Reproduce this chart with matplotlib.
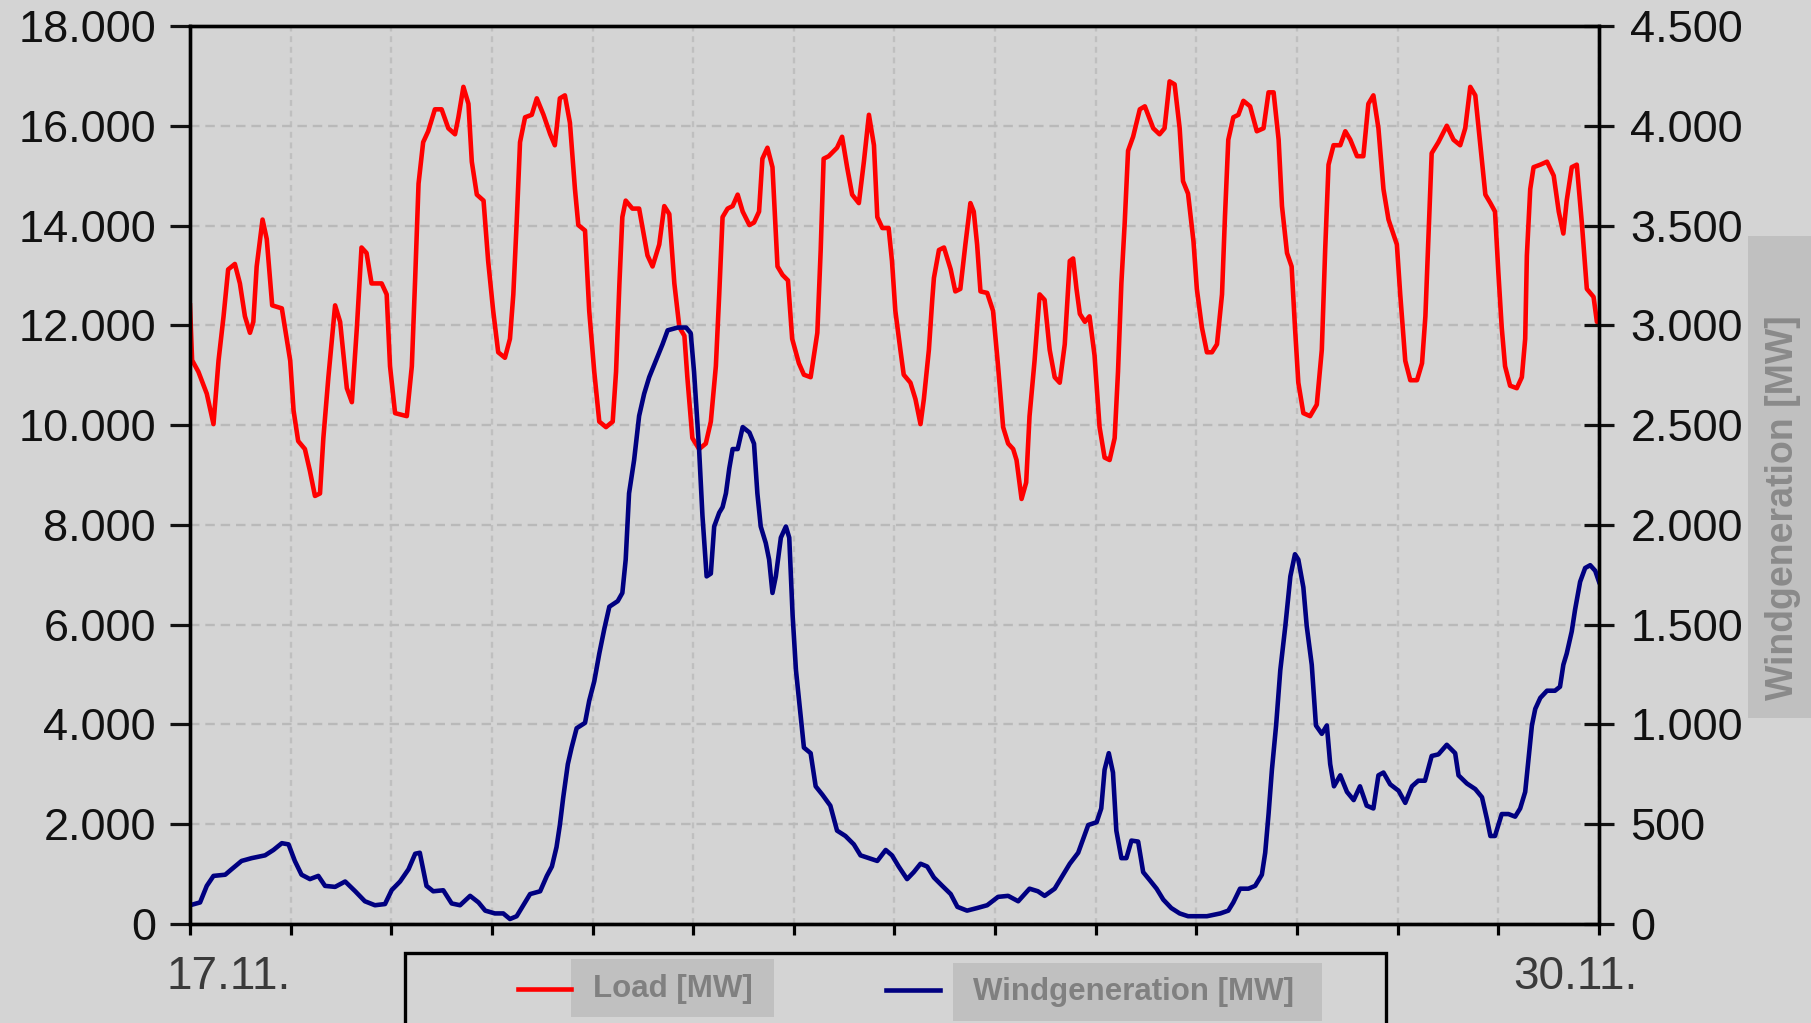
import matplotlib
matplotlib.use("Agg")
import matplotlib.pyplot as plt
from matplotlib.patches import Rectangle
from matplotlib.lines import Line2D
from matplotlib.ticker import FuncFormatter, MultipleLocator

plt.rcParams['font.family'] = ['Liberation Sans', 'DejaVu Sans']

# hours since 17.11. 00:00
load_h = [0, 0.5, 2.0, 4.0, 5.6, 6.8, 8.0, 9.1, 10.7, 11.9, 13.1, 14.3, 15.1, 15.9, 17.3, 18.3, 19.6, 21.9, 23.9,
          24.7, 25.8, 27.4, 28.6, 29.8, 31.0, 31.8, 33.0, 34.6, 35.8, 37.4, 38.6, 39.8, 40.9, 42.1, 43.3, 45.7,
          46.9, 47.7, 48.9, 51.7, 52.9, 53.7, 54.5, 55.6, 56.8, 58.4, 60.0, 61.6, 63.2, 64.0, 65.2, 66.4, 67.2,
          68.4, 70.0, 71.1, 72.3, 73.5, 75.1, 76.3, 77.1, 77.9, 78.7, 79.9, 81.5, 82.7, 84.3, 85.9, 87.0, 88.2,
          89.4, 90.6, 91.8, 92.6, 94.2, 95.2, 96.4, 97.6, 99.2, 100.8, 101.6, 102.4, 103.1, 103.9, 105.5, 107.1,
          109.1, 110.3, 111.9, 113.1, 114.3, 115.5, 116.7, 117.9, 118.6, 119.8, 121.4, 123.0, 124.2, 125.4, 126.2,
          127.0, 128.2, 129.4, 130.6, 131.8, 133.4, 134.5, 135.7, 136.5, 137.7, 138.9, 140.1, 141.3, 142.6, 143.6,
          145.2, 146.4, 148.0, 149.6, 150.4, 151.1, 152.3, 154.3, 155.5, 156.7, 157.9, 159.5, 160.7, 161.9, 163.1,
          163.9, 165.1, 166.6, 167.4, 168.2, 169.4, 170.2, 171.8, 173.0, 174.2, 175.0, 176.2, 177.0, 177.4, 178.6,
          179.8, 181.4, 182.5, 183.7, 184.9, 186.1, 186.9, 187.7, 188.5, 190.1, 191.5, 192.7, 193.9, 195.1, 196.3,
          197.1, 198.3, 199.4, 200.2, 201.4, 202.6, 203.8, 205.0, 206.2, 207.4, 208.6, 209.8, 210.6, 211.4, 212.2,
          213.4, 214.5, 215.7, 216.9, 218.1, 219.3, 220.5, 221.3, 222.1, 222.9, 223.7, 224.9, 226.5, 227.7, 229.7,
          231.2, 232.4, 233.6, 234.8, 236.0, 236.8, 238.0, 239.3, 240.1, 241.3, 242.5, 243.7, 244.9, 246.1, 246.8,
          247.6, 248.8, 250.0, 251.2, 252.8, 254.4, 256.0, 257.2, 258.4, 259.6, 260.4, 261.6, 262.7, 263.5, 264.3,
          265.5, 267.1, 268.7, 269.9, 270.7, 271.5, 272.7, 274.3, 275.5, 276.7, 278.3, 279.8, 281.0, 282.2, 283.4,
          284.6, 285.8, 287.8, 288.6, 289.8, 291.0, 292.6, 293.8, 294.6, 295.3, 296.1, 297.7, 299.7, 301.3, 302.9,
          304.1, 305.3, 306.5, 307.7, 308.9, 310.1, 311.2, 312.0, 312.8, 313.6, 314.8, 316.4, 317.6, 318.4, 318.8,
          319.6, 320.4, 322.0, 323.6, 325.2, 326.4, 327.5, 328.3, 329.5, 330.7, 331.9, 333.1, 334.7, 335.5, 336.0]
load_mw = [12400, 11300, 11070, 10630, 10020, 11290, 12180, 13120, 13230, 12840, 12180, 11850, 12070, 13180, 14120,
           13730, 12400, 12340, 11290, 10290, 9680, 9520, 9080, 8580, 8630, 9740, 10960, 12400, 12070, 10740, 10460,
           11960, 13560, 13450, 12840, 12840, 12620, 11180, 10240, 10180, 11180, 12950, 14840, 15670, 15890, 16330,
           16330, 15950, 15830, 16170, 16780, 16440, 15280, 14620, 14500, 13290, 12290, 11460, 11350, 11730, 12620,
           14060, 15670, 16170, 16220, 16550, 16220, 15830, 15610, 16550, 16610, 16060, 14730, 14010, 13900, 12290,
           11070, 10070, 9960, 10070, 11070, 12840, 14170, 14500, 14340, 14340, 13400, 13180, 13620, 14390, 14230,
           12840, 11960, 11790, 10960, 9740, 9520, 9630, 10070, 11180, 12620, 14170, 14340, 14390, 14620, 14280,
           14010, 14060, 14280, 15340, 15560, 15170, 13180, 13010, 12900, 11730, 11240, 11010, 10960, 11850, 13510,
           15340, 15390, 15560, 15780, 15170, 14620, 14450, 15280, 16220, 15610, 14170, 13950, 13950, 13290, 12290,
           11510, 11010, 10850, 10520, 10020, 10520, 11510, 12510, 12950, 13510, 13560, 13120, 12680, 12730, 13620,
           14450, 14280, 13620, 12680, 12650, 12290, 11180, 9960, 9630, 9520, 9300, 8520, 8850, 10180, 11290, 12620,
           12510, 11510, 10960, 10850, 11620, 13290, 13340, 12730, 12230, 12070, 12180, 11400, 9960, 9350, 9300,
           9740, 11070, 12840, 14060, 15500, 15780, 16330, 16390, 15950, 15830, 15950, 16890, 16830, 15950, 14890,
           14640, 13680, 12730, 11960, 11460, 11460, 11620, 12620, 14170, 15720, 16170, 16220, 16500, 16390, 15890,
           15950, 16670, 16670, 15720, 14390, 13450, 13180, 11960, 10850, 10240, 10180, 10410, 11510, 13510, 15220,
           15610, 15610, 15890, 15720, 15390, 15390, 16440, 16610, 15950, 14730, 14120, 13620, 12620, 11290, 10900,
           10900, 11240, 12180, 13730, 15450, 15670, 16000, 15720, 15610, 15950, 16780, 16610, 15610, 14620, 14450,
           14280, 13060, 11960, 11180, 10790, 10740, 10960, 11730, 13400, 14730, 15170, 15220, 15280, 15000, 14280,
           13840, 14500, 15170, 15220, 14060, 12730, 12570, 12070, 12070]

wind_h = [0, 2.4, 4.0, 5.6, 8.4, 9.9, 12.3, 14.7, 17.9, 19.9, 21.9, 23.5, 25.0, 26.6, 28.6, 30.6, 32.2, 34.6, 37.0,
          39.4, 41.7, 44.1, 46.5, 48.1, 50.1, 52.1, 53.7, 54.8, 56.4, 58.0, 60.4, 62.4, 64.4, 66.8, 68.8, 70.4,
          72.7, 74.7, 76.3, 77.9, 79.5, 81.1, 83.5, 85.1, 86.3, 87.4, 88.2, 89.0, 90.1, 91.0, 92.2, 94.2, 95.2,
          96.4, 97.6, 98.8, 100.0, 102.0, 103.1, 103.9, 104.7, 105.9, 107.1, 108.3, 109.5, 111.1, 112.7, 113.9,
          116.3, 118.3, 119.4, 120.2, 121.4, 122.2, 123.2, 124.2, 125.0, 126.2, 127.0, 127.8, 128.6, 129.4, 130.6,
          131.8, 133.4, 134.5, 135.3, 136.1, 137.3, 138.1, 138.9, 139.7, 140.9, 142.1, 142.9, 143.7, 144.5, 145.6,
          146.4, 148.0, 149.2, 150.8, 152.7, 154.3, 156.3, 158.3, 159.9, 161.9, 163.9, 165.9, 167.4, 169.0, 171.0,
          172.6, 174.2, 175.8, 177.4, 179.4, 181.4, 183.0, 185.3, 187.7, 190.1, 192.7, 195.1, 197.5, 200.2, 202.2,
          203.8, 206.2, 207.8, 209.8, 211.8, 213.0, 214.2, 216.2, 217.3, 218.1, 219.1, 220.1, 220.9, 222.1, 223.3,
          224.5, 226.1, 227.3, 228.9, 230.5, 232.1, 234.0, 236.0, 238.0, 242.5, 245.7, 247.6, 248.8, 250.4, 252.4,
          254.0, 255.6, 256.4, 257.2, 258.0, 259.0, 260.0, 261.2, 262.4, 263.5, 264.3, 265.5, 266.3, 267.5, 268.5,
          269.9, 271.1, 271.9, 272.8, 274.3, 275.9, 277.5, 279.0, 280.6, 282.2, 283.4, 284.6, 286.2, 288.2, 289.8,
          291.4, 292.9, 294.5, 296.1, 297.7, 299.7, 301.7, 302.5, 304.5, 306.5, 308.1, 309.3, 310.1, 311.2, 312.8,
          314.4, 316.0, 317.2, 318.4, 319.2, 320.0, 320.8, 322.0, 323.6, 325.5, 326.7, 327.5, 328.3, 329.5, 330.3,
          331.5, 332.7, 333.9, 335.1, 336.0]
wind_mw = [94, 108, 191, 241, 247, 274, 316, 330, 344, 371, 405, 399, 316, 247, 225, 241, 191, 186, 213, 164, 114, 94,
           100, 170, 213, 274, 352, 357, 191, 164, 169, 103, 94, 141, 108, 67, 53, 53, 25, 39, 94, 150, 164, 241, 288,
           385, 496, 634, 801, 884, 981, 1008, 1119, 1216, 1355, 1479, 1590, 1618, 1659, 1826, 2158, 2324, 2546,
           2657, 2740, 2823, 2906, 2975, 2989, 2989, 2961, 2767, 2380, 2047, 1742, 1756, 1992, 2061, 2089, 2158,
           2283, 2380, 2380, 2490, 2463, 2407, 2158, 1992, 1909, 1826, 1659, 1742, 1936, 1992, 1936, 1548, 1272,
           1050, 884, 856, 690, 648, 593, 468, 441, 399, 344, 330, 316, 371, 344, 288, 225, 260, 302, 288, 233, 191,
           150, 86, 67, 80, 94, 136, 141, 114, 177, 164, 141, 177, 233, 302, 357, 427, 496, 510, 579, 773, 856, 759,
           468, 330, 330, 418, 413, 260, 219, 177, 122, 80, 53, 39, 39, 53, 67, 108, 177, 177, 191, 247, 357, 551,
           773, 995, 1272, 1493, 1742, 1853, 1826, 1687, 1493, 1299, 995, 953, 995, 801, 690, 745, 662, 621, 690,
           593, 579, 745, 759, 700, 668, 607, 690, 718, 718, 842, 850, 898, 856, 745, 704, 676, 635, 524, 441, 441,
           551, 551, 538, 579, 662, 828, 995, 1078, 1133, 1169, 1169, 1189, 1299, 1355, 1466, 1576, 1715, 1784,
           1798, 1770, 1715]

date_labels = ['17.11.', '30.11.']
legend_labels = ['Load [MW]', 'Windgeneration [MW]']
right_label = 'Windgeneration [MW]'

bg = '#d4d4d4'
fig = plt.figure(figsize=(18.11, 10.23), dpi=100, facecolor=bg)
ax = fig.add_axes([190 / 1811, 1 - 924 / 1023, 1409 / 1811, 898 / 1023])
ax.set_facecolor(bg)

thousands = FuncFormatter(lambda v, p: f"{int(v):,}".replace(",", "."))

ax.plot(load_h, load_mw, color='#ff0000', lw=3.3)
ax.set_xlim(0, 336)
ax.set_ylim(0, 18000)
ax.yaxis.set_major_locator(MultipleLocator(2000))
ax.yaxis.set_major_formatter(thousands)
ax.xaxis.set_major_locator(MultipleLocator(24))
ax.set_xticklabels([])
ax.tick_params(axis='y', direction='out', length=14.5, width=2.3, labelsize=32.5, pad=10, colors='#111111')
ax.tick_params(axis='x', direction='out', length=8, width=2.3, labelbottom=False)
ax.grid(axis='y', color='#b9b9b9', linestyle=(0, (4, 2.5)), lw=1.7)
ax.grid(axis='x', color='#bfbfbf', linestyle=(0, (2.5, 2)), lw=1.7)

ax2 = ax.twinx()
ax2.plot(wind_h, wind_mw, color='#000080', lw=3.3)
ax2.set_ylim(0, 4500)
ax2.yaxis.set_major_locator(MultipleLocator(500))
ax2.yaxis.set_major_formatter(thousands)
ax2.tick_params(axis='y', direction='inout', length=21, width=2.3, labelsize=32.5, pad=12, colors='#111111')

for a in (ax, ax2):
    for s in a.spines.values():
        s.set_color('black')
        s.set_linewidth(2.4)

# date labels under the x axis
fig.text(229 / 1811, 1 - 977 / 1023, date_labels[0], ha='center', va='center', fontsize=33, color='#3a3a3a')
fig.text(1575 / 1811, 1 - 977 / 1023, date_labels[1], ha='center', va='center', fontsize=33, color='#3a3a3a')

# right axis title on a grey strip
fig.add_artist(Rectangle((1748 / 1811, 1 - 718 / 1023), 63 / 1811, 482 / 1023,
                         transform=fig.transFigure, facecolor='#c0c0c0', edgecolor='none'))
fig.text(1783 / 1811, 1 - 508 / 1023, right_label, rotation=90, ha='center', va='center',
         fontsize=27, fontweight='bold', color='#8a8a8a')

# legend box, cut off by the bottom edge
fig.add_artist(Rectangle((405 / 1811, -0.05), 981 / 1811, 0.05 + 1 - 953 / 1023,
                         transform=fig.transFigure, facecolor='none', edgecolor='black', lw=2.4))
fig.add_artist(Line2D([518 / 1811, 571 / 1811], [1 - 989 / 1023] * 2, transform=fig.transFigure,
                      color='#ff0000', lw=3.3))
fig.add_artist(Rectangle((571 / 1811, 1 - 1017 / 1023), 203 / 1811, 58 / 1023,
                         transform=fig.transFigure, facecolor='#c0c0c0', edgecolor='none'))
fig.text(593 / 1811, 1 - 989 / 1023, legend_labels[0], ha='left', va='center',
         fontsize=22.5, fontweight='bold', color='#808080')
fig.add_artist(Line2D([886 / 1811, 940 / 1811], [1 - 990 / 1023] * 2, transform=fig.transFigure,
                      color='#000080', lw=3.3))
fig.add_artist(Rectangle((953 / 1811, 1 - 1021 / 1023), 369 / 1811, 58 / 1023,
                         transform=fig.transFigure, facecolor='#c0c0c0', edgecolor='none'))
fig.text(973 / 1811, 1 - 992 / 1023, legend_labels[1], ha='left', va='center',
         fontsize=22.5, fontweight='bold', color='#808080')

fig.savefig('out.png', dpi=100, facecolor=bg)
